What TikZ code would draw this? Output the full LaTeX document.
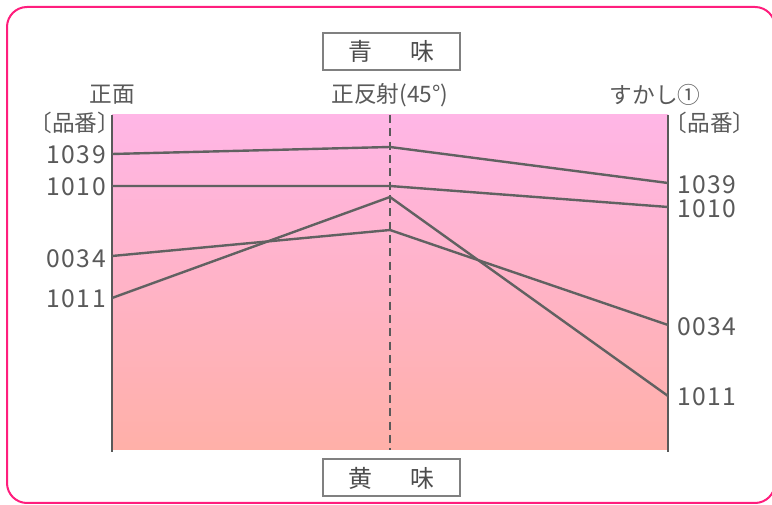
\documentclass[tikz,border=0pt]{standalone}
\usepackage{fontspec}
\setmainfont{Noto Sans CJK JP}
\newfontfamily\digitfont[LetterSpace=6]{Noto Sans CJK JP}
\begin{document}
\begin{tikzpicture}[x=0.75pt,y=-0.75pt,
  lbl/.style={text=black!65,font=\fontsize{17}{19}\selectfont,inner sep=0pt},
  num/.style={text=black!65,font=\digitfont\fontsize{18.5}{20}\selectfont,inner sep=0pt},
  tag/.style={draw=black!50,line width=1.5pt,text=black!70,font=\fontsize{18}{20}\selectfont,minimum width=102.75pt,minimum height=27.75pt,inner sep=0pt},
  axis/.style={draw=black!65,line width=2.2pt},
  series/.style={draw=black!62,line width=1.8pt}]
\useasboundingbox (0,0) rectangle (772,505);
\draw[draw={rgb,255:red,255;green,30;blue,125},line width=1.5pt,rounded corners=15pt] (7,7) rectangle (775,503);
\shade[top color={rgb,255:red,255;green,182;blue,230},bottom color={rgb,255:red,255;green,176;blue,168}] (112,115) rectangle (668,450);
\draw[axis] (112,115) -- (112,452);
\draw[axis] (668,115) -- (668,452);
\draw[draw=black!65,line width=1.2pt,dash pattern=on 6pt off 4pt] (390,115) -- (390,450);
% points
\coordinate (a1) at (112,154); \coordinate (b1) at (390,147); \coordinate (c1) at (668,183);
\coordinate (a2) at (112,186); \coordinate (b2) at (390,186); \coordinate (c2) at (668,207);
\coordinate (a3) at (112,256); \coordinate (b3) at (390,230); \coordinate (c3) at (668,325);
\coordinate (a4) at (112,298); \coordinate (b4) at (390,197); \coordinate (c4) at (668,396);
\draw[series] (a1) -- (b1) -- (c1);
\draw[series] (a2) -- (b2) -- (c2);
\draw[series] (a3) -- (b3) -- (c3);
\draw[series] (a4) -- (b4) -- (c4);
% labels
\node[num,anchor=east] (l1) at (106,155) {1039};
\node[num,anchor=east] (l2) at (106,187) {1010};
\node[num,anchor=east] (l3) at (106,259) {0034};
\node[num,anchor=east] (l4) at (106,299) {1011};
\node[num,anchor=west] (r1) at (677,185) {1039};
\node[num,anchor=west] (r2) at (677,209) {1010};
\node[num,anchor=west] (r3) at (677,327) {0034};
\node[num,anchor=west] (r4) at (677,397) {1011};
\node[lbl] (h1) at (112,95) {正面};
\node[lbl] (h2) at (390,95) {正反射(45°)};
\node[lbl] (h3) at (655,95) {すかし①};
\node[lbl] (p1) at (75,123) {〔品番〕};
\node[lbl] (p2) at (710,123) {〔品番〕};
\node[tag] (t1) at (391.5,51.5) {青\hspace{1.6em}味};
\node[tag] (t2) at (391.5,478) {黄\hspace{1.6em}味};
\end{tikzpicture}
\end{document}
